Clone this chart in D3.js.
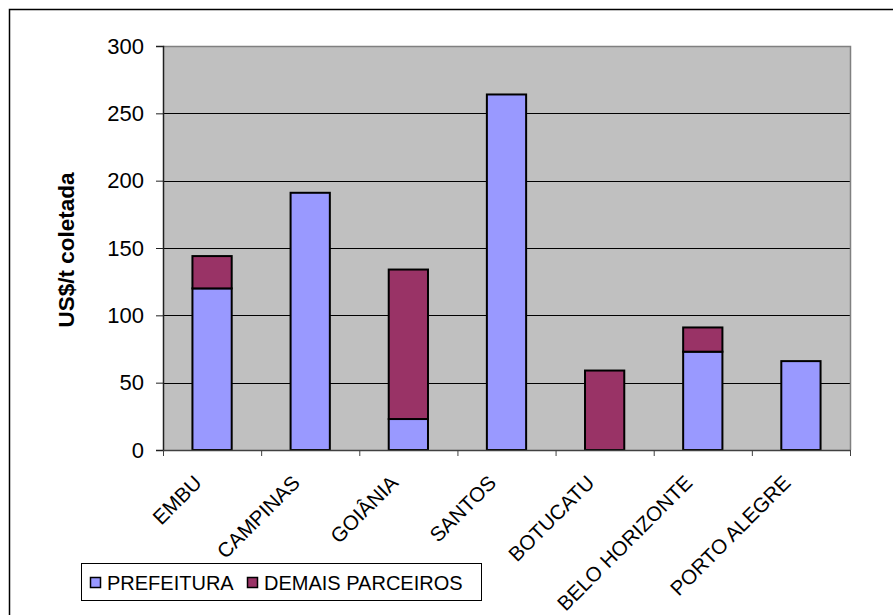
<!DOCTYPE html>
<html>
<head>
<meta charset="utf-8">
<script src="https://cdn.jsdelivr.net/npm/d3@7"></script>
<style>
  html, body { margin: 0; padding: 0; background: #fff; }
  svg { display: block; font-family: "Liberation Sans", Arial, sans-serif; }
</style>
</head>
<body>
<svg id="chart" width="893" height="615"></svg>
<script>
// Cost per collected tonne, split by who pays
const cities = ["EMBU", "CAMPINAS", "GOIÂNIA", "SANTOS", "BOTUCATU", "BELO HORIZONTE", "PORTO ALEGRE"];
const prefeitura = [120, 191, 23, 264, 0, 73, 66];
const demaisParceiros = [24, 0, 111, 0, 59, 18, 0];
const seriesNames = ["PREFEITURA", "DEMAIS PARCEIROS"];
const seriesColors = ["#9999FF", "#993366"];
const yTicks = [0, 50, 100, 150, 200, 250, 300];

const svg = d3.select("#chart");
const plot = { left: 163, right: 850, top: 46, bottom: 450 };

// Outer chart frame
svg.append("rect")
  .attr("x", 9.5).attr("y", 9.5)
  .attr("width", 900).attr("height", 700)
  .attr("fill", "none").attr("stroke", "#000").attr("stroke-width", 1.5);

const x = d3.scaleBand().domain(cities).range([plot.left, plot.right]).paddingInner(0.6).paddingOuter(0.3);
const xBand = d3.scaleBand().domain(cities).range([plot.left, plot.right]);
const y = d3.scaleLinear().domain([0, 300]).range([plot.bottom, plot.top]);

// Plot background
svg.append("rect")
  .attr("x", plot.left).attr("y", plot.top)
  .attr("width", plot.right - plot.left).attr("height", plot.bottom - plot.top)
  .attr("fill", "#C0C0C0");

// Horizontal gridlines
svg.append("g")
  .selectAll("line")
  .data(yTicks.filter(t => t > 0 && t < 300))
  .join("line")
  .attr("x1", plot.left).attr("x2", plot.right)
  .attr("y1", d => Math.round(y(d)) + 0.5).attr("y2", d => Math.round(y(d)) + 0.5)
  .attr("stroke", "#000").attr("stroke-width", 1);

// Plot border (top and right)
svg.append("path")
  .attr("d", `M${plot.left},${plot.top + 0.5}H${plot.right + 0.5}V${plot.bottom}`)
  .attr("fill", "none").attr("stroke", "#808080").attr("stroke-width", 1.5);

// Stacked bars
const stackData = cities.map((c, i) => ({ city: c, PREFEITURA: prefeitura[i], "DEMAIS PARCEIROS": demaisParceiros[i] }));
const stacked = d3.stack().keys(seriesNames)(stackData);

svg.append("g")
  .selectAll("g")
  .data(stacked)
  .join("g")
  .attr("fill", (d, i) => seriesColors[i])
  .selectAll("rect")
  .data(d => d.filter(s => s[1] - s[0] > 0))
  .join("rect")
  .attr("x", d => x(d.data.city))
  .attr("y", d => y(d[1]))
  .attr("width", x.bandwidth())
  .attr("height", d => y(d[0]) - y(d[1]))
  .attr("stroke", "#000")
  .attr("stroke-width", 2);

// Y axis
const yAxis = svg.append("g")
  .attr("transform", `translate(${plot.left},0)`)
  .call(d3.axisLeft(y).tickValues(yTicks).tickSize(7).tickPadding(12).tickFormat(d3.format("d")));
yAxis.select(".domain").attr("stroke", "#202020").attr("stroke-width", 1.5);
yAxis.selectAll(".tick line").attr("stroke", "#202020");
yAxis.selectAll(".tick text")
  .attr("font-size", 22).attr("fill", "#000")
  .attr("font-family", "Liberation Sans, Arial, sans-serif");

// X axis
const xAxis = svg.append("g")
  .attr("transform", `translate(0,${plot.bottom})`)
  .call(d3.axisBottom(xBand).tickSize(0).tickFormat(""));
xAxis.select(".domain").attr("stroke", "#404040").attr("stroke-width", 1.5);

// Tick marks between categories
svg.append("g")
  .selectAll("line")
  .data(d3.range(cities.length + 1))
  .join("line")
  .attr("x1", i => plot.left + i * xBand.step() + 0.5)
  .attr("x2", i => plot.left + i * xBand.step() + 0.5)
  .attr("y1", plot.bottom).attr("y2", plot.bottom + 6)
  .attr("stroke", "#404040").attr("stroke-width", 1);

// Rotated category labels
svg.append("g")
  .selectAll("text")
  .data(cities)
  .join("text")
  .attr("transform", d => `translate(${xBand(d) + xBand.bandwidth() / 2 - 9},${plot.bottom + 34}) rotate(-45)`)
  .attr("text-anchor", "end")
  .attr("font-size", 20.5)
  .attr("fill", "#000")
  .text(d => d);

// Y axis title
svg.append("text")
  .attr("transform", `translate(74,250) rotate(-90)`)
  .attr("text-anchor", "middle")
  .attr("font-size", 22.5)
  .attr("font-weight", "bold")
  .attr("fill", "#000")
  .text("US$/t coletada");

// Legend
const legend = svg.append("g");
legend.append("rect")
  .attr("x", 81.5).attr("y", 563.5).attr("width", 400).attr("height", 37)
  .attr("fill", "#fff").attr("stroke", "#000").attr("stroke-width", 1);
const legendItems = [
  { name: seriesNames[0], color: seriesColors[0], sx: 90, tx: 107 },
  { name: seriesNames[1], color: seriesColors[1], sx: 247, tx: 264 }
];
legend.selectAll("g.item")
  .data(legendItems)
  .join("g")
  .attr("class", "item")
  .each(function (d) {
    const g = d3.select(this);
    g.append("rect")
      .attr("x", d.sx + 0.5).attr("y", 577.5).attr("width", 10).attr("height", 10)
      .attr("fill", d.color).attr("stroke", "#000").attr("stroke-width", 1.5);
    g.append("text")
      .attr("x", d.tx).attr("y", 590)
      .attr("font-size", 20).attr("fill", "#000")
      .text(d.name);
  });
</script>
</body>
</html>
